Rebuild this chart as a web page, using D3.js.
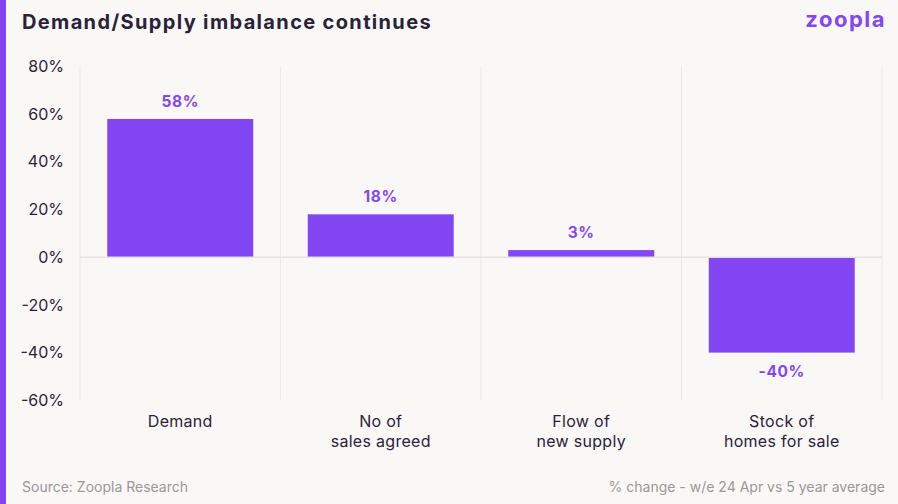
<!DOCTYPE html>
<html>
<head>
<meta charset="utf-8">
<script src="https://cdn.jsdelivr.net/npm/d3@7"></script>
<style>
  html, body { margin: 0; padding: 0; background: #faf8f7; }
  svg { display: block; font-family: Inter, "Noto Sans", sans-serif; }
</style>
</head>
<body>
<div id="chart"></div>
<script>
// data
const categories = [["Demand"], ["No of", "sales agreed"], ["Flow of", "new supply"], ["Stock of", "homes for sale"]]
const values = [58, 18, 3, -40]
const yTicks = [80, 60, 40, 20, 0, -20, -40, -60]

const W = 898, H = 504
const purple = "#8247f2"
const ink = "#2a2238"

const svg = d3.select("#chart").append("svg")
  .attr("width", W)
  .attr("height", H)

svg.append("rect").attr("width", W).attr("height", H).attr("fill", "#faf8f7")
// side strip
svg.append("rect").attr("x", 0).attr("y", 0).attr("width", 6).attr("height", H).attr("fill", purple)

// title
svg.append("text")
  .attr("x", 22).attr("y", 29)
  .attr("fill", ink)
  .attr("font-size", 20).attr("font-weight", 700)
  .attr("letter-spacing", 1.35)
  .text("Demand/Supply imbalance continues")

// logo
svg.append("text")
  .attr("x", 886).attr("y", 27)
  .attr("text-anchor", "end")
  .attr("fill", purple)
  .attr("font-size", 22).attr("font-weight", 700)
  .attr("letter-spacing", 1.5)
  .text("zoopla")

var x = d3.scaleBand()
  .domain(d3.range(categories.length))
  .range([80, 882])
  .paddingInner(0.272)
  .paddingOuter(0.136)

var y = d3.scaleLinear()
  .domain([-60, 80])
  .range([400.3, 66.5])

// vertical grid lines at band edges
const step = x.step()
const edges = d3.range(categories.length + 1).map(i => 80 + i * step)
svg.append("g").selectAll("line")
  .data(edges)
  .enter().append("line")
  .attr("x1", d => d).attr("x2", d => d)
  .attr("y1", y(80)).attr("y2", y(-60))
  .attr("stroke", "#ebe8e8").attr("stroke-width", 1)

// y axis
const yAxis = svg.append("g")
  .attr("transform", "translate(64,0)")
  .call(d3.axisLeft(y).tickValues(yTicks).tickSize(0).tickPadding(0).tickFormat(d => d + "%"))
yAxis.select(".domain").remove()
yAxis.selectAll("text")
  .attr("fill", ink)
  .attr("font-size", 16)
  .attr("font-family", "Inter, 'Noto Sans', sans-serif")

// bars
svg.append("g").selectAll("rect")
  .data(values)
  .enter().append("rect")
  .attr("x", (d, i) => x(i))
  .attr("width", x.bandwidth())
  .attr("y", d => y(Math.max(0, d)))
  .attr("height", d => Math.abs(y(d) - y(0)))
  .attr("fill", purple)

// zero line
svg.append("line")
  .attr("x1", 80).attr("x2", 882)
  .attr("y1", y(0)).attr("y2", y(0))
  .attr("stroke", "#e6e2e2").attr("stroke-width", 1.5)

// value labels
svg.append("g").selectAll("text")
  .data(values)
  .enter().append("text")
  .attr("x", (d, i) => x(i) + x.bandwidth() / 2)
  .attr("y", d => d >= 0 ? y(d) - 12 : y(d) + 24)
  .attr("text-anchor", "middle")
  .attr("fill", purple)
  .attr("font-size", 15.5).attr("font-weight", 700)
  .attr("letter-spacing", 0.6)
  .text(d => d + "%")

// category labels
const cat = svg.append("g").selectAll("text")
  .data(categories)
  .enter().append("text")
  .attr("x", (d, i) => x(i) + x.bandwidth() / 2)
  .attr("y", 427)
  .attr("text-anchor", "middle")
  .attr("fill", ink)
  .attr("font-size", 16)
  .attr("letter-spacing", 0.3)
cat.selectAll("tspan")
  .data(d => d)
  .enter().append("tspan")
  .attr("x", function () { return d3.select(this.parentNode).attr("x") })
  .attr("dy", (d, i) => i ? 20 : 0)
  .text(d => d)

// footer
svg.append("text")
  .attr("x", 22).attr("y", 492)
  .attr("fill", "#9a9797").attr("font-size", 14)
  .text("Source: Zoopla Research")
svg.append("text")
  .attr("x", 885).attr("y", 492)
  .attr("text-anchor", "end")
  .attr("fill", "#9a9797").attr("font-size", 14)
  .text("% change - w/e 24 Apr vs 5 year average")
</script>
</body>
</html>
